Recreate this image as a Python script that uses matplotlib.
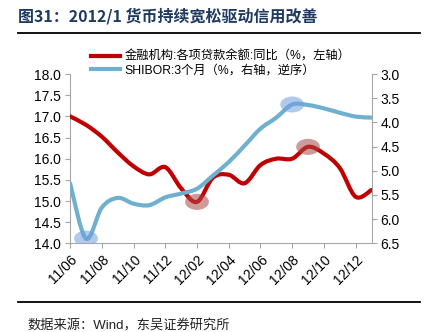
import numpy as np
import matplotlib
matplotlib.use("Agg")
import matplotlib.pyplot as plt
from matplotlib.path import Path
from matplotlib.patches import PathPatch, Ellipse
from matplotlib.lines import Line2D

plt.rcParams['font.family'] = ['Liberation Sans', 'Noto Sans CJK SC']

# monthly data, 2011/06 - 2013/01
months = ['11/06', '11/07', '11/08', '11/09', '11/10', '11/11', '11/12',
          '12/01', '12/02', '12/03', '12/04', '12/05', '12/06', '12/07',
          '12/08', '12/09', '12/10', '12/11', '12/12', '13/01']
loan_yoy = [17.0, 16.8, 16.52, 16.15, 15.82, 15.63, 15.8, 15.3, 14.98, 15.55,
            15.62, 15.42, 15.85, 16.0, 16.0, 16.28, 16.12, 15.78, 15.1, 15.26]
shibor_3m = [5.26, 6.4, 5.76, 5.56, 5.68, 5.71, 5.55, 5.47, 5.37, 5.1,
             4.82, 4.48, 4.13, 3.9, 3.63, 3.64, 3.71, 3.8, 3.88, 3.9]
loan_marks = [8, 15]
shibor_marks = [1, 14]

RED = '#C00000'
BLUE = '#6FB0CE'


def smooth_path(x, y):
    # catmull-rom through the points, like excel's smoothed line
    pts = np.column_stack([x, y]).astype(float)
    ext = np.vstack([pts[0], pts, pts[-1]])
    verts = [pts[0]]
    codes = [Path.MOVETO]
    for i in range(len(pts) - 1):
        p0, p1, p2, p3 = ext[i], ext[i + 1], ext[i + 2], ext[i + 3]
        verts += [p1 + (p2 - p0) / 6, p2 - (p3 - p1) / 6, p2]
        codes += [Path.CURVE4] * 3
    return Path(verts, codes)


x = np.arange(len(months))

fig = plt.figure(figsize=(4.3, 3.32), dpi=100)
ax = fig.add_axes([0.163, 0.267, 0.701, 0.51])
ax2 = ax.twinx()

ax.add_patch(PathPatch(smooth_path(x, loan_yoy), fill=False, edgecolor=RED,
                       lw=3, capstyle='round', zorder=3))
ax2.add_patch(PathPatch(smooth_path(x, shibor_3m), fill=False, edgecolor=BLUE,
                        lw=3, capstyle='round', zorder=3))

for i in loan_marks:
    ax.add_patch(Ellipse((x[i], loan_yoy[i]), 1.5, 0.38, color='#A84848',
                         alpha=0.55, lw=0, zorder=4))
for i in shibor_marks:
    ax2.add_patch(Ellipse((x[i], shibor_3m[i]), 1.5, 0.33, color='#6F9FE0',
                          alpha=0.55, lw=0, zorder=4))

ax.set_xlim(0, 19)
ax.set_ylim(14, 18)
ax.set_yticks(np.arange(14, 18.01, 0.5))
ax.yaxis.set_major_formatter(matplotlib.ticker.FormatStrFormatter('%.1f'))
ax2.set_ylim(6.5, 3.0)
ax2.set_yticks(np.arange(3.0, 6.51, 0.5))
ax2.yaxis.set_major_formatter(matplotlib.ticker.FormatStrFormatter('%.1f'))

ax.set_xticks(x[::2])
ax.set_xticklabels(months[::2], rotation=45, ha='right', va='top',
                   rotation_mode='anchor', fontsize=9.5)

for a in (ax, ax2):
    for s in a.spines.values():
        s.set_color('#A6A6A6')
    a.spines['top'].set_visible(False)
    a.tick_params(colors='#A6A6A6', labelcolor='black', length=3.5,
                  width=0.8, labelsize=10, pad=3)
ax.spines['right'].set_visible(False)
ax2.spines['left'].set_visible(False)
ax2.spines['bottom'].set_visible(False)

handles = [Line2D([], [], color=RED, lw=3), Line2D([], [], color=BLUE, lw=3)]
labels = ['金融机构:各项贷款余额:同比（%，左轴）', 'SHIBOR:3个月（%，右轴，逆序）']
fig.legend(handles, labels, loc='upper left', bbox_to_anchor=(0.212, 0.847),
           frameon=False, fontsize=8.8, handlelength=2.4, handletextpad=0.35,
           labelspacing=0.1, borderpad=0, borderaxespad=0)

fig.text(0.042, 0.952, '图31：2012/1 货币持续宽松驱动信用改善', fontsize=11.5,
         weight='bold', color='#1F3A5F', va='center',
         family=['Noto Sans CJK SC'])
fig.add_artist(Line2D([0.042, 0.977], [0.9] * 2, color='black', lw=1.3))
fig.add_artist(Line2D([0.042, 0.977], [0.09] * 2, color='black', lw=1.3))
fig.text(0.063, 0.018, '数据来源：Wind，东吴证券研究所', fontsize=9.5,
         va='center', color='#222222')

fig.savefig('out.png', dpi=100)
